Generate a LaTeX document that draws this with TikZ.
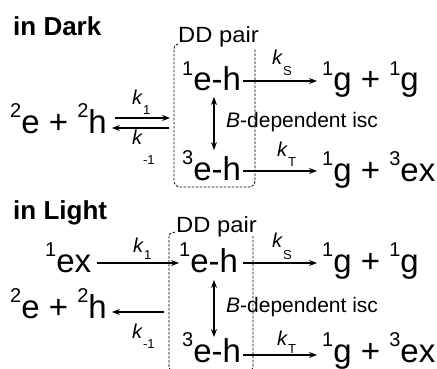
\documentclass[tikz,border=0pt]{standalone}
\usepackage{fontspec}
\setmainfont{Liberation Sans}
\usetikzlibrary{arrows.meta}
\newcommand\spx[1]{\raisebox{15.5pt}{\fontsize{20}{20}\selectfont #1}}
\newcommand\mainf{\fontsize{33}{34}\selectfont}
\newcommand\klab[2]{\textit{k}\raisebox{-#2}{\fontsize{13}{13}\selectfont #1}}
\begin{document}
\begin{tikzpicture}[x=1pt,y=-1pt,
  txt/.style={anchor=base west, inner sep=0pt, font=\mainf},
  smalltxt/.style={anchor=base west, inner sep=0pt, font=\fontsize{21}{21}\selectfont},
  ddtxt/.style={anchor=base west, inner sep=0pt, font=\fontsize{22}{23}\selectfont},
  lbl/.style={anchor=base west, inner sep=0pt, font=\fontsize{20}{20}\selectfont},
  ttl/.style={anchor=base west, inner sep=0pt, font=\fontsize{26}{26}\selectfont\bfseries},
  arr/.style={-{Stealth[length=8pt,width=6pt]}, line width=1.1pt},
  darr/.style={{Stealth[length=8pt,width=6pt]}-{Stealth[length=8pt,width=6pt]}, line width=1.1pt},
  dd/.style={dash pattern=on 2.5pt off 1.5pt, line width=0.8pt, rounded corners=6pt}]
\fill[white] (0,0) rectangle (437,369);
\useasboundingbox (0,0) rectangle (437,369);

% ---------- in Dark ----------
\node[ttl] (tD) at (13,36) {in Dark};
\node[ddtxt] (ddD) at (178,43) {\scalebox{1.08}[1]{DD pair}};
\draw[dd] (178,44) .. controls (174,46) .. (174,55) -- (174,187) -- (255,187) -- (255,49);
\node[txt] (ehD) at (10,133) {\spx{2}e + \spx{2}h};
\node[txt] (sD) at (182,91) {\spx{1}e-h};
\node[txt] (tDn) at (182,180) {\spx{3}e-h};
\node[txt] (ggD) at (322,91) {\spx{1}g + \spx{1}g};
\node[txt] (gxD) at (322,181) {\spx{1}g + \spx{3}ex};
\node[smalltxt] (iscD) at (226,128) {\textit{B}-dependent isc};
\coordinate (eqDa) at (115,118); \coordinate (eqDb) at (170,118);
\coordinate (eqDc) at (169,128); \coordinate (eqDd) at (112,128);
\draw[arr] (eqDa) -- (eqDb);
\draw[arr] (eqDc) -- (eqDd);
\node[lbl] (k1D) at (132,105) {\klab{1}{10pt}};
\node[lbl] (km1D) at (132,145) {\klab{-1}{20pt}};
\coordinate (kSDa) at (243,81); \coordinate (kSDb) at (317,81);
\draw[arr] (kSDa) -- (kSDb);
\node[lbl] (kSD) at (272,65) {\klab{S}{11pt}};
\coordinate (kTDa) at (243,171); \coordinate (kTDb) at (317,171);
\draw[arr] (kTDa) -- (kTDb);
\node[lbl] (kTD) at (277,157) {\klab{T}{10pt}};
\coordinate (vDa) at (214,97); \coordinate (vDb) at (214,150);
\draw[darr] (vDa) -- (vDb);

% ---------- in Light ----------
\node[ttl] (tL) at (13,219) {in Light};
\node[ddtxt] (ddL) at (176,232) {\scalebox{1.08}[1]{DD pair}};
\draw[dd] (175,232) .. controls (169,234) .. (169,242) -- (169,372) -- (253,372) -- (253,236);
\node[txt] (exL) at (45,272) {\spx{1}ex};
\node[txt] (sL) at (179,272) {\spx{1}e-h};
\node[txt] (ehL) at (10,318) {\spx{2}e + \spx{2}h};
\node[txt] (tLn) at (182,362) {\spx{3}e-h};
\node[txt] (ggL) at (322,272) {\spx{1}g + \spx{1}g};
\node[txt] (gxL) at (322,362) {\spx{1}g + \spx{3}ex};
\node[smalltxt] (iscL) at (226,312) {\textit{B}-dependent isc};
\coordinate (k1La) at (97,263); \coordinate (k1Lb) at (179,263);
\draw[arr] (k1La) -- (k1Lb);
\node[lbl] (k1L) at (133,252) {\klab{1}{7pt}};
\coordinate (km1La) at (164,312); \coordinate (km1Lb) at (112,312);
\draw[arr] (km1La) -- (km1Lb);
\node[lbl] (km1L) at (132,338) {\klab{-1}{10pt}};
\coordinate (kSLa) at (243,263); \coordinate (kSLb) at (317,263);
\draw[arr] (kSLa) -- (kSLb);
\node[lbl] (kSL) at (272,247) {\klab{S}{12pt}};
\coordinate (kTLa) at (243,355); \coordinate (kTLb) at (317,355);
\draw[arr] (kTLa) -- (kTLb);
\node[lbl] (kTL) at (277,345) {\klab{T}{8pt}};
\coordinate (vLa) at (214,280); \coordinate (vLb) at (214,337);
\draw[darr] (vLa) -- (vLb);
\end{tikzpicture}
\end{document}
